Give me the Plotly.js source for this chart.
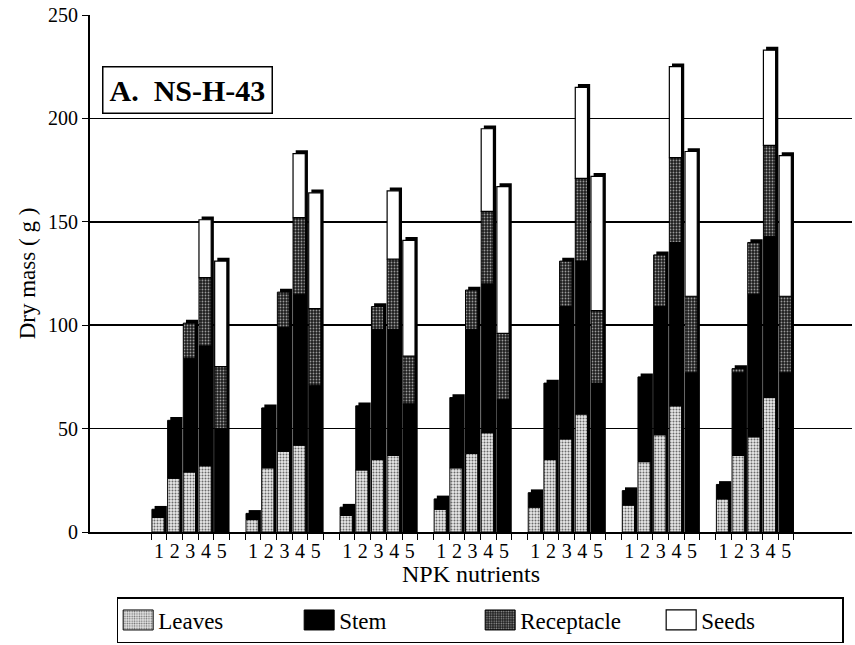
<!DOCTYPE html>
<html>
<head>
<meta charset="utf-8">
<script src="https://cdn.plot.ly/plotly-3.0.1.min.js"></script>
<style>html,body{margin:0;padding:0;background:#fff;}#chart{width:855px;height:645px;}</style>
</head>
<body>
<div id="chart"></div>
<script>
// NPK treatment labels inside each group
const barLabels = ["1", "2", "3", "4", "5"];
const groupCount = 7;

// Dry mass (g), 7 groups x 5 NPK levels, listed group by group
const leaves = [
  7, 26, 29, 32, 0,
  6, 31, 39, 42, 0,
  8, 30, 35, 37, 0,
  11, 31, 38, 48, 0,
  12, 35, 45, 57, 0,
  13, 34, 47, 61, 0,
  16, 37, 46, 65, 0
];
const stem = [
  4, 28, 55, 58, 50,
  3, 29, 60, 73, 71,
  4, 31, 63, 61, 62,
  5, 34, 60, 72, 64,
  7, 37, 64, 74, 72,
  7, 41, 62, 79, 77,
  7, 40, 69, 78, 77
];
const receptacle = [
  0, 0, 17, 33, 30,
  0, 0, 17, 37, 37,
  0, 0, 11, 34, 23,
  0, 0, 19, 35, 32,
  0, 0, 22, 40, 35,
  0, 0, 25, 41, 37,
  0, 2, 25, 44, 37
];
const seeds = [
  0, 0, 0, 28, 51,
  0, 0, 0, 31, 56,
  0, 0, 0, 33, 56,
  0, 0, 0, 40, 71,
  0, 0, 0, 44, 65,
  0, 0, 0, 44, 70,
  0, 0, 0, 46, 68
];

const per = barLabels.length;
const step = per + 1;
const n = leaves.length;
const xs = [], tickText = [];
for (let i = 0; i < n; i++) {
  xs.push(Math.floor(i / per) * step + (i % per) + 1);
  tickText.push(barLabels[i % per]);
}
const minorVals = [];
for (let g = 0; g < groupCount; g++) {
  for (let b = 0; b <= per; b++) minorVals.push(g * step + b + 0.5);
}

const base1 = leaves.slice();
const base2 = leaves.map((v, i) => v + stem[i]);
const base3 = base2.map((v, i) => v + receptacle[i]);
const totals = base3.map((v, i) => v + seeds[i]);
const nz = arr => arr.map(v => (v > 0 ? v : null));

const W = 0.78, OFF = -0.45;
const common = { type: "bar", x: xs, width: W, offset: OFF, hoverinfo: "y+name" };

const depth = {
  type: "bar", x: xs, y: totals.map(v => v + 1.6), base: 0,
  width: W, offset: OFF + 0.17,
  marker: { color: "#000", line: { width: 0 } },
  showlegend: false, hoverinfo: "skip"
};

const tLeaves = Object.assign({}, common, {
  name: "Leaves", y: nz(leaves), base: 0,
  marker: { color: "#e2e2e2", line: { color: "#000", width: 1 },
    pattern: { shape: ".", fgcolor: "#6a6a6a", bgcolor: "#e8e8e8", size: 3, solidity: 0.35 } }
});
const tStem = Object.assign({}, common, {
  name: "Stem", y: nz(stem), base: base1,
  marker: { color: "#000", line: { color: "#000", width: 1 } }
});
const tRec = Object.assign({}, common, {
  name: "Receptacle", y: nz(receptacle), base: base2,
  marker: { color: "#2a2a2a", line: { color: "#000", width: 1 },
    pattern: { shape: ".", fgcolor: "#9a9a9a", bgcolor: "#1e1e1e", size: 3, solidity: 0.3 } }
});
const tSeeds = Object.assign({}, common, {
  name: "Seeds", y: nz(seeds), base: base3,
  marker: { color: "#fff", line: { color: "#000", width: 1.2 } }
});

const serif = "Liberation Serif";

const layout = {
  width: 855, height: 645,
  margin: { l: 90, r: 3, t: 15, b: 112 },
  paper_bgcolor: "#fff", plot_bgcolor: "#fff",
  barmode: "overlay",
  font: { family: serif, color: "#000", size: 20 },
  xaxis: {
    range: [-3.4, 45.2], automargin: false,
    tickmode: "array", tickvals: xs, ticktext: tickText,
    ticks: "", showgrid: false, zeroline: false,
    showline: true, linecolor: "#000", linewidth: 1.5,
    tickfont: { family: serif, size: 20 },
    minor: { tickvals: minorVals, ticks: "outside", ticklen: 6, tickwidth: 1, tickcolor: "#000", showgrid: false },
    title: { text: "NPK nutrients", font: { family: serif, size: 24 }, standoff: 0 }
  },
  yaxis: {
    range: [0, 250], tickvals: [0, 50, 100, 150, 200, 250], automargin: false,
    ticks: "outside", ticklen: 6, tickcolor: "#000", tickwidth: 1,
    showgrid: true, gridcolor: "#000", gridwidth: 1.5,
    zeroline: false, showline: true, linecolor: "#000", linewidth: 2,
    tickfont: { family: serif, size: 20 },
    title: { text: "Dry mass ( g )", font: { family: serif, size: 23 }, standoff: 6 }
  },
  legend: {
    orientation: "h", x: 0.035, xanchor: "left", y: -0.1236, yanchor: "top",
    bordercolor: "#000", borderwidth: 1.5, bgcolor: "#fff",
    font: { family: serif, size: 23 },
    entrywidth: 136, entrywidthmode: "pixels",
    traceorder: "normal"
  },
  annotations: [{
    xref: "paper", yref: "paper", x: 0.0157, y: 0.9015, xanchor: "left", yanchor: "top",
    text: "<b>A.&nbsp;&nbsp;NS-H-43</b>", showarrow: false,
    font: { family: serif, size: 30, color: "#000" },
    bordercolor: "#000", borderwidth: 1.5, borderpad: 6, bgcolor: "#fff"
  }]
};

Plotly.newPlot("chart", [depth, tLeaves, tStem, tRec, tSeeds], layout, { displayModeBar: false, staticPlot: true })
  .then(gd => {
    // enlarge legend swatches to wide rectangles like the original key
    gd.querySelectorAll(".legend .traces .legendpoints path").forEach(p => {
      p.setAttribute("d", "M15,10H-15V-10H15Z");
    });
  });
</script>
</body>
</html>
